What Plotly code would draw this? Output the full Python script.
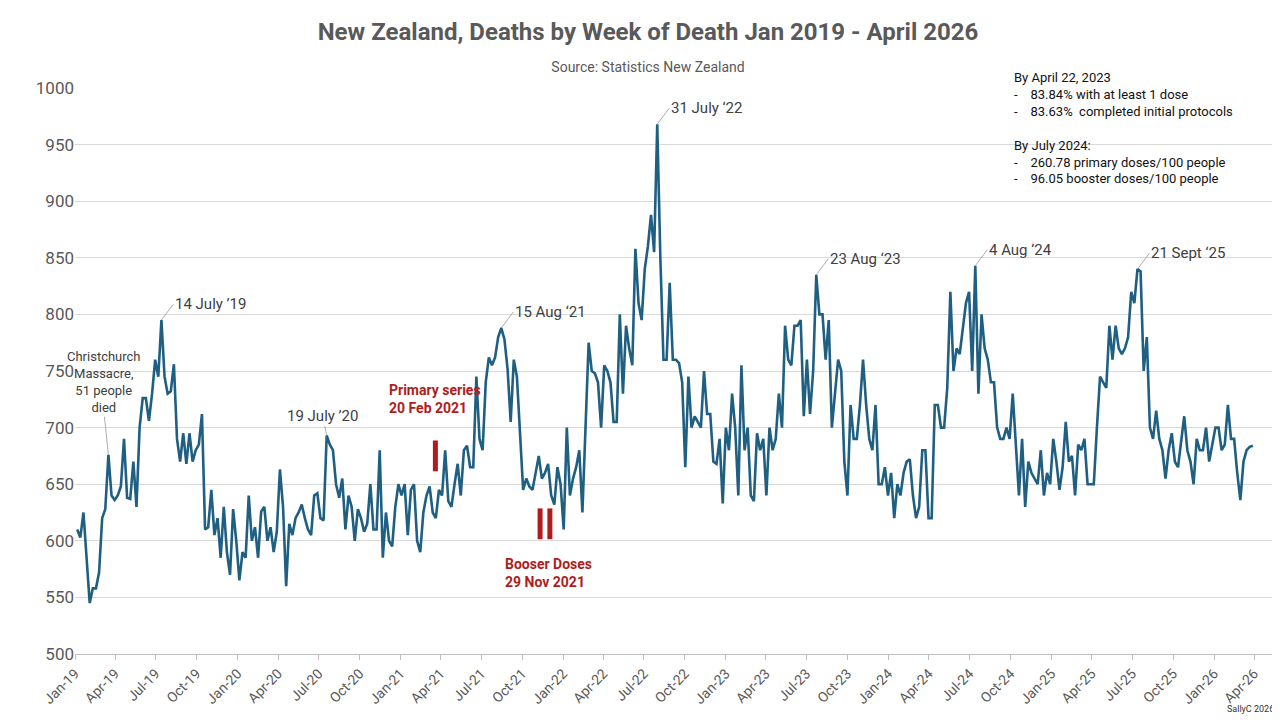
import numpy as np
import pandas as pd
import plotly.graph_objects as go

y2019 = [610, 603, 625, 580, 545, 558, 558, 572, 620, 628, 676, 640, 636, 640, 648, 690, 638, 637, 670, 630,
         700, 726, 726, 706, 730, 760, 745, 795, 745, 730, 732, 756, 690, 670, 695, 668, 695, 670, 680, 685,
         712, 610, 612, 645, 605, 620, 585, 630, 590, 570, 628, 600]
y2020 = [565, 590, 585, 640, 600, 612, 585, 626, 630, 600, 612, 590, 608, 663, 630, 560, 615, 605, 620, 625,
         632, 620, 610, 605, 640, 642, 620, 618, 693, 685, 680, 650, 638, 655, 610, 640, 630, 600, 628, 620,
         608, 615, 650, 610, 610, 680, 585, 625, 600, 595, 630, 650]
y2021 = [640, 650, 605, 645, 650, 600, 590, 625, 640, 648, 625, 620, 645, 640, 680, 635, 630, 650, 668, 640,
         680, 684, 665, 665, 745, 690, 680, 740, 762, 755, 762, 780, 788, 778, 752, 705, 760, 745, 700, 645,
         655, 648, 645, 660, 675, 655, 660, 668, 640, 632, 665, 650]
y2022 = [610, 700, 640, 655, 665, 680, 625, 700, 775, 750, 748, 740, 700, 755, 750, 740, 705, 705, 800, 730,
         790, 770, 755, 858, 810, 795, 840, 860, 888, 855, 968, 850, 760, 760, 828, 760, 760, 757, 740, 665,
         745, 700, 710, 705, 700, 750, 712, 712, 670, 668, 690, 633]
y2023 = [700, 680, 730, 700, 640, 755, 680, 700, 640, 635, 695, 680, 690, 640, 700, 680, 690, 730, 700, 790,
         760, 755, 790, 790, 795, 710, 760, 712, 750, 835, 800, 800, 760, 795, 700, 730, 760, 750, 670, 640,
         720, 690, 690, 720, 760, 720, 690, 680, 720, 650, 650, 665]
y2024 = [640, 660, 620, 650, 640, 660, 670, 672, 640, 620, 630, 680, 680, 620, 620, 720, 720, 700, 700, 735,
         820, 750, 770, 765, 790, 810, 820, 750, 843, 730, 800, 770, 760, 740, 740, 700, 690, 690, 700, 690,
         730, 680, 640, 690, 630, 670, 660, 655, 650, 680, 640, 660]
y2025 = [650, 690, 670, 645, 665, 705, 670, 675, 640, 685, 680, 690, 650, 650, 650, 700, 745, 740, 735, 790,
         760, 790, 770, 765, 770, 780, 820, 810, 840, 838, 750, 780, 700, 690, 715, 690, 680, 655, 680, 695,
         670, 665, 690, 710, 680, 670, 650, 690, 680, 680, 700, 670]
y2026 = [685, 700, 700, 680, 685, 720, 690, 690, 660, 636, 670, 680, 683, 684]

deaths = y2019 + y2020 + y2021 + y2022 + y2023 + y2024 + y2025 + y2026
weeks = pd.date_range("2019-01-06", periods=len(deaths), freq="7D")

peak_labels = ["14 July \u201919", "19 July \u201920", "15 Aug \u201821", "31 July \u201822",
               "23 Aug \u201823", "4 Aug \u201824", "21 Sept \u201825"]
peak_idx = [27, 52 + 28, 104 + 32, 156 + 30, 208 + 29, 260 + 28, 312 + 28]

fig = go.Figure()
fig.add_trace(go.Scatter(x=weeks, y=deaths, mode="lines",
                         line=dict(color="#1f5f82", width=2.6), showlegend=False))

for lab, i in zip(peak_labels, peak_idx):
    if i == 80:
        fig.add_annotation(x=weeks[i], y=deaths[i], text=lab, showarrow=True, arrowhead=0,
                           arrowwidth=0.8, arrowcolor="#999", ax=-4, ay=-20, xanchor="center",
                           font=dict(size=15, color="#404040"))
        continue
    fig.add_annotation(x=weeks[i], y=deaths[i], text=lab, showarrow=True, arrowhead=0,
                       arrowwidth=0.8, arrowcolor="#999", ax=12, ay=-16, xanchor="left",
                       font=dict(size=15, color="#404040"))

fig.add_annotation(x=weeks[10], y=deaths[10], text="Christchurch<br>Massacre,<br>51 people<br>died",
                   showarrow=True, arrowhead=0, arrowwidth=0.8, arrowcolor="#999", ax=-4, ay=-38,
                   yanchor="bottom", font=dict(size=13, color="#404040"))

fig.add_annotation(x="2021-03-20", y=725, text="<b>Primary series<br>20 Feb 2021</b>", showarrow=False,
                   xanchor="center", align="left", font=dict(size=14, color="#b01c1c"))
fig.add_annotation(x="2021-11-29", y=572, text="<b>Booser Doses<br>29 Nov 2021</b>", showarrow=False,
                   xanchor="center", align="left", font=dict(size=14, color="#b01c1c"))
fig.add_trace(go.Scatter(x=["2021-03-20", "2021-11-10", "2021-12-02"], y=[675, 615, 615], mode="markers",
                         marker=dict(symbol="line-ns", size=22, line=dict(color="#b01c1c", width=5)),
                         showlegend=False, hoverinfo="skip"))

fig.add_annotation(xref="paper", yref="paper", x=0.78, y=1.035, xanchor="left", yanchor="top", align="left",
                   showarrow=False, font=dict(size=13, color="#111"),
                   text="By April 22, 2023<br>-    83.84% with at least 1 dose<br>"
                        "-    83.63%  completed initial protocols<br><br>By July 2024:<br>"
                        "-    260.78 primary doses/100 people<br>-    96.05 booster doses/100 people")
fig.add_annotation(xref="paper", yref="paper", x=1.0, y=-0.11, xanchor="right", showarrow=False,
                   text="SallyC 2026", font=dict(size=9, color="#333"))

fig.update_layout(
    width=1280, height=720,
    title=dict(text="<b>New Zealand, Deaths by Week of Death Jan 2019 - April 2026</b><br>"
                    "<span style='font-size:14px;color:#595959'>Source: Statistics New Zealand</span>",
               x=0.5, y=0.955, yanchor="top", font=dict(size=24, color="#595959", family="Roboto")),
    font=dict(family="Roboto", color="#595959"),
    plot_bgcolor="white", paper_bgcolor="white",
    margin=dict(l=67, r=12, t=80, b=74),
    xaxis=dict(range=["2019-01-01", "2026-05-20"], dtick="M3", tick0="2019-01-01", tickformat="%b-%y",
               tickangle=-45, tickfont=dict(size=14), showgrid=False, showline=True,
               linecolor="#bfbfbf", ticks="outside", ticklen=5, tickcolor="#bfbfbf"),
    yaxis=dict(range=[500, 1000], dtick=50, tickfont=dict(size=17), gridcolor="#d9d9d9",
               zeroline=False, ticks=""),
)

fig.write_html("out.html")
